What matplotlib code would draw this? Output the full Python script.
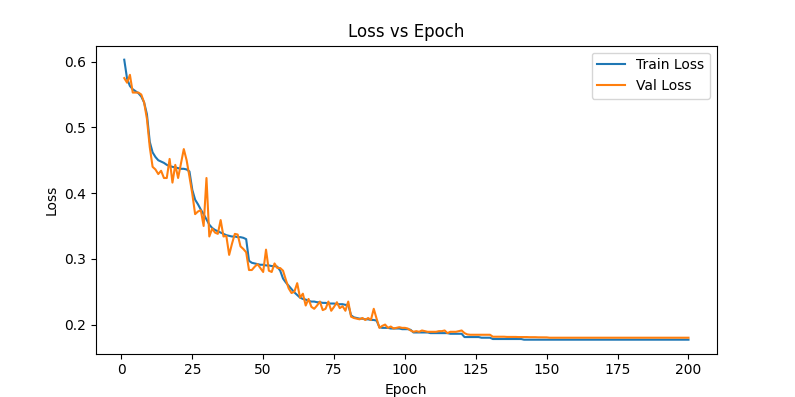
import matplotlib
matplotlib.use("Agg")
import matplotlib.pyplot as plt

# valores (epocas 1..200)
train_loss = [
    0.603, 0.574, 0.563, 0.558, 0.555, 0.552, 0.547, 0.538, 0.520, 0.478,
    0.462, 0.455, 0.450, 0.448, 0.446, 0.443, 0.441, 0.440, 0.439, 0.438,
    0.437, 0.437, 0.436, 0.433, 0.405, 0.390, 0.383, 0.375, 0.368, 0.360,
    0.352, 0.347, 0.344, 0.342, 0.340, 0.338, 0.336, 0.335, 0.334, 0.334,
    0.333, 0.333, 0.332, 0.330, 0.297, 0.294, 0.293, 0.292, 0.291, 0.291,
    0.290, 0.290, 0.289, 0.289, 0.288, 0.282, 0.270, 0.264, 0.259, 0.254,
    0.249, 0.245, 0.241, 0.239, 0.238, 0.236, 0.235, 0.235, 0.234, 0.234,
    0.233, 0.233, 0.232, 0.232, 0.232, 0.231, 0.231, 0.231, 0.230, 0.230,
    0.214, 0.211, 0.210, 0.209, 0.209, 0.208, 0.208, 0.207, 0.207, 0.206,
    0.196, 0.195, 0.195, 0.195, 0.194, 0.194, 0.194, 0.194, 0.193, 0.193,
    0.193, 0.192, 0.188, 0.188, 0.188, 0.188, 0.188, 0.188, 0.187, 0.187,
    0.187, 0.187, 0.187, 0.187, 0.187, 0.186, 0.186, 0.186, 0.186, 0.186,
    0.181, 0.181, 0.181, 0.181, 0.181, 0.181, 0.180, 0.180, 0.180, 0.180,
    0.178, 0.178, 0.178, 0.178, 0.178, 0.178, 0.178, 0.178, 0.178, 0.178,
    0.178, 0.177, 0.177, 0.177, 0.177, 0.177, 0.177, 0.177, 0.177, 0.177,
    0.177, 0.177, 0.177, 0.177, 0.177, 0.177, 0.177, 0.177, 0.177, 0.177,
    0.177, 0.177, 0.177, 0.177, 0.177, 0.177, 0.177, 0.177, 0.177, 0.177,
    0.177, 0.177, 0.177, 0.177, 0.177, 0.177, 0.177, 0.177, 0.177, 0.177,
    0.177, 0.177, 0.177, 0.177, 0.177, 0.177, 0.177, 0.177, 0.177, 0.177,
    0.177, 0.177, 0.177, 0.177, 0.177, 0.177, 0.177, 0.177, 0.177, 0.177,
]

val_loss = [
    0.575, 0.568, 0.580, 0.553, 0.553, 0.553, 0.550, 0.538, 0.513, 0.470,
    0.440, 0.436, 0.429, 0.434, 0.423, 0.423, 0.452, 0.416, 0.443, 0.423,
    0.445, 0.467, 0.450, 0.425, 0.399, 0.368, 0.372, 0.374, 0.350, 0.423,
    0.334, 0.346, 0.340, 0.338, 0.359, 0.334, 0.335, 0.306, 0.323, 0.338,
    0.337, 0.319, 0.315, 0.310, 0.283, 0.283, 0.288, 0.292, 0.286, 0.280,
    0.314, 0.282, 0.280, 0.293, 0.286, 0.286, 0.282, 0.268, 0.255, 0.248,
    0.250, 0.263, 0.241, 0.247, 0.229, 0.239, 0.227, 0.224, 0.229, 0.235,
    0.222, 0.224, 0.235, 0.221, 0.227, 0.234, 0.225, 0.228, 0.221, 0.235,
    0.212, 0.210, 0.209, 0.208, 0.210, 0.207, 0.210, 0.207, 0.224, 0.209,
    0.195, 0.198, 0.200, 0.195, 0.197, 0.194, 0.195, 0.196, 0.195, 0.195,
    0.194, 0.191, 0.189, 0.190, 0.189, 0.191, 0.190, 0.189, 0.189, 0.189,
    0.189, 0.190, 0.190, 0.191, 0.187, 0.189, 0.189, 0.189, 0.190, 0.191,
    0.187, 0.185, 0.1845, 0.1845, 0.1845, 0.1845, 0.1845, 0.1845, 0.1845, 0.1845,
    0.1815, 0.1815, 0.1815, 0.1815, 0.1815, 0.1812, 0.1812, 0.1812, 0.1812, 0.1810,
    0.1810, 0.1810, 0.1810, 0.1808, 0.1808, 0.1808, 0.1806, 0.1806, 0.1805, 0.1805,
    0.180, 0.180, 0.180, 0.180, 0.180, 0.180, 0.180, 0.180, 0.180, 0.180,
    0.180, 0.180, 0.180, 0.180, 0.180, 0.180, 0.180, 0.180, 0.180, 0.180,
    0.180, 0.180, 0.180, 0.180, 0.180, 0.180, 0.180, 0.180, 0.180, 0.180,
    0.180, 0.180, 0.180, 0.180, 0.180, 0.180, 0.180, 0.180, 0.180, 0.180,
    0.180, 0.180, 0.180, 0.180, 0.180, 0.180, 0.180, 0.180, 0.180, 0.180,
]

epochs = list(range(1, len(train_loss) + 1))

plt.figure(figsize=(7.95, 3.97), dpi=100)
plt.subplots_adjust(left=0.1208, right=0.9015, top=0.8849, bottom=0.1091)
plt.plot(epochs, train_loss, label="Train Loss")
plt.plot(epochs, val_loss, label="Val Loss")
plt.title("Loss vs Epoch")
plt.xlabel("Epoch")
plt.ylabel("Loss")
plt.legend()
plt.savefig("out.png", dpi=100)
